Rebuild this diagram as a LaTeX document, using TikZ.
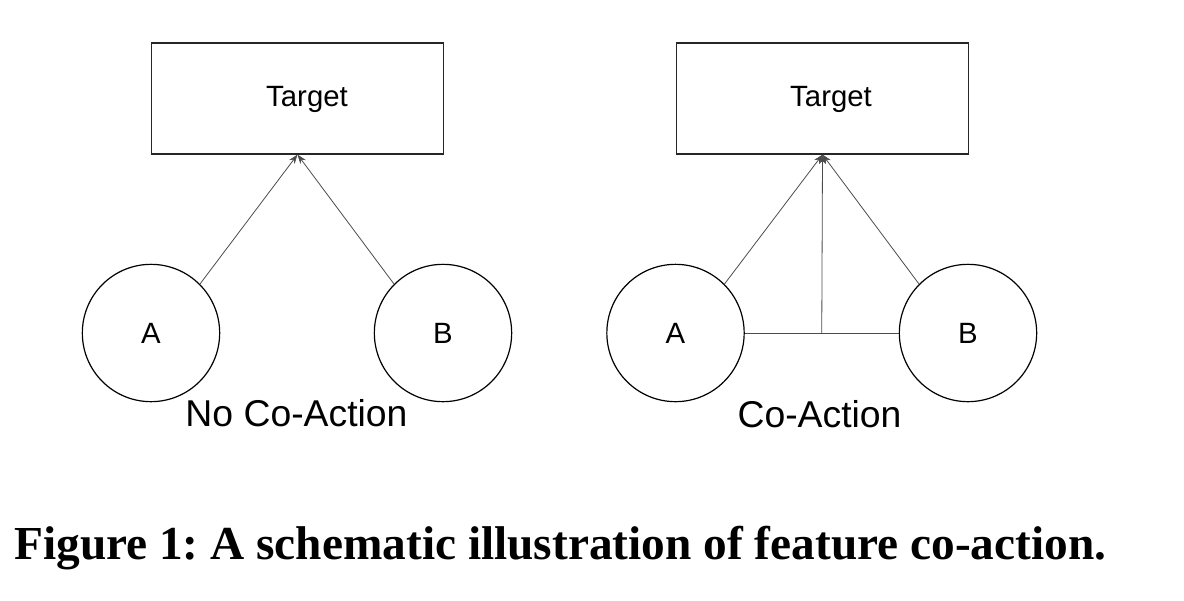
\documentclass[tikz,border=0pt]{standalone}
\usepackage{fontspec}
\setmainfont{Liberation Sans}
\newfontfamily\capfont{Liberation Serif}
\usetikzlibrary{arrows.meta,calc}
\frenchspacing
\tikzset{
  box/.style={draw=black!85, line width=1.1pt, rectangle, minimum width=219pt, minimum height=83pt, inner sep=0pt},
  feat/.style={draw=black, line width=0.9pt, circle, minimum size=103pt, inner sep=0pt, font=\fontsize{22pt}{24pt}\selectfont},
  boxtext/.style={anchor=base, inner sep=0pt, font=\fontsize{22pt}{24pt}\selectfont},
  title/.style={anchor=base, inner sep=0pt, font=\fontsize{28pt}{30pt}\selectfont},
  conn/.style={draw=black!70, line width=0.6pt, -{Stealth[length=7pt,width=5pt]}},
  plain/.style={draw=black!70, line width=0.6pt},
}
\begin{document}
\begin{tikzpicture}[x=0.75pt,y=-0.75pt]
\useasboundingbox (0,0) rectangle (1184,600);
% left
\node[box] (T1) at (297.5,98.5) {};
\node[boxtext] (T1t) at (307,106) {Target};
\node[feat] (A1) at (151,333) {A};
\node[feat] (B1) at (443,333) {B};
\node[title] (L1) at (296.5,426) {No Co-Action};
\draw[conn] (A1.45) -- (T1.south);
\draw[conn] (B1.135) -- (T1.south);
% right
\node[box] (T2) at (822.5,98.5) {};
\node[boxtext] (T2t) at (831,106) {Target};
\node[feat] (A2) at (675.5,333) {A};
\node[feat] (B2) at (968,333) {B};
\node[title] (L2) at (819.5,427) {Co-Action};
\coordinate (M) at ($(A2.east)!0.5!(B2.west)$);
\draw[plain] (A2.east) -- (B2.west);
\draw[conn] (A2.45) -- (T2.south);
\draw[conn] (B2.135) -- (T2.south);
\draw[conn] (M) -- (T2.south);
% caption
\node[anchor=base west, inner sep=0pt, font=\capfont\bfseries\fontsize{35.5pt}{38pt}\selectfont] (cap) at (14,559) {Figure 1: A schematic illustration of feature co-action.};
\end{tikzpicture}
\end{document}
